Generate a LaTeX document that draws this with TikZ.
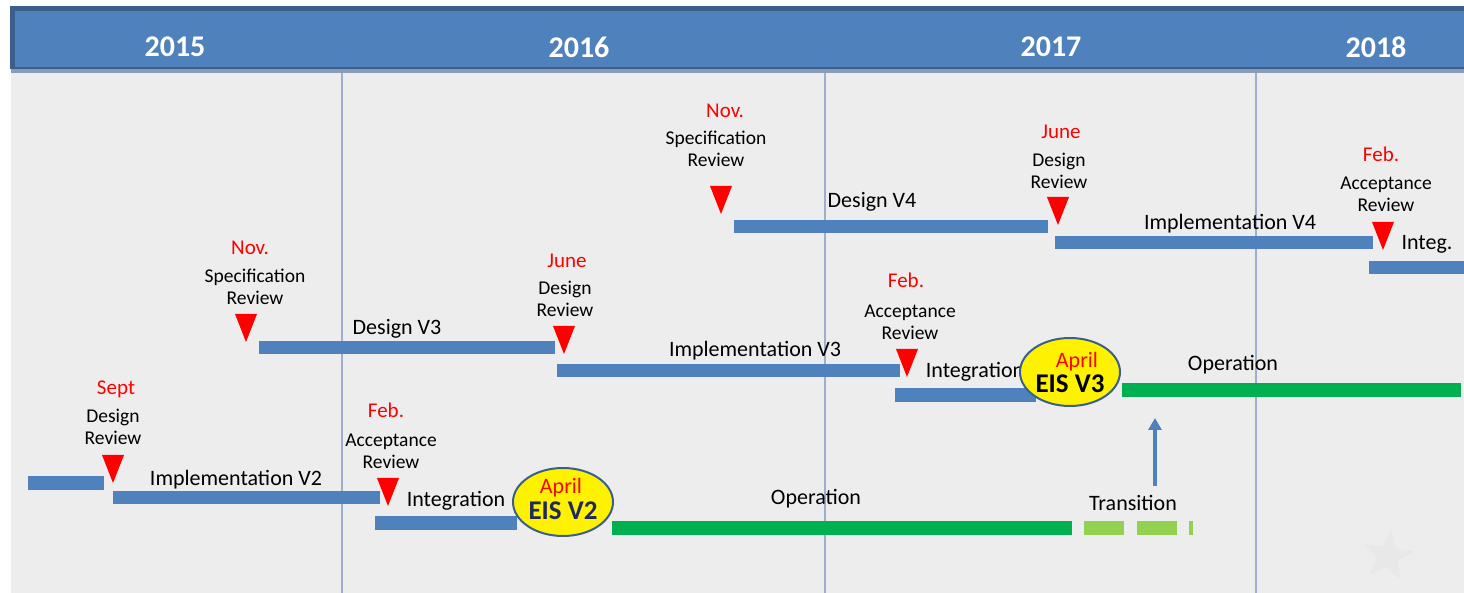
\documentclass[tikz,border=0pt]{standalone}
\usepackage{fontspec}
\setmainfont{Carlito}
\usetikzlibrary{shapes.geometric,arrows.meta}

\definecolor{barblue}{HTML}{4F81BD}
\definecolor{hdrdark}{HTML}{3A5F8C}
\definecolor{hdrshadow}{HTML}{8C9CB4}
\definecolor{bggray}{HTML}{EDEDED}
\definecolor{gridblue}{HTML}{9AB0CC}
\definecolor{opgreen}{HTML}{00B050}
\definecolor{transgreen}{HTML}{92D050}
\definecolor{eisnavy}{HTML}{1F2A5C}

% one red milestone marker, apex down: x, top y
\newcommand{\revmark}[2]{\fill[milestone] (#1-11,#2) -- (#1+11,#2) -- (#1,#2+28) -- cycle;}

\begin{document}
\begin{tikzpicture}[
			x = 0.5pt, y = -0.5pt,
			every node/.style = {inner sep = 0pt},
			year/.style = {text = white, font = \fontsize{15}{15}\selectfont\bfseries},
			month/.style = {text = red, yshift = -1pt, font = \fontsize{10.5}{12}\selectfont},
			review/.style = {align = center, font = \fontsize{9.75}{11}\selectfont},
			phase/.style = {yshift = -1pt, font = \fontsize{11}{12}\selectfont},
			eis/.style = {ellipse, draw = hdrdark, line width = 1pt, fill = yellow,
				minimum width = 50pt, minimum height = 34pt},
			eisname/.style = {font = \fontsize{13.5}{14}\selectfont\bfseries},
			bar/.style = {fill = barblue},
			opbar/.style = {fill = opgreen},
			transbar/.style = {fill = transgreen},
			milestone/.style = {fill = red},
		]

		\useasboundingbox (0,0) rectangle (1464,593);
		\fill[white] (0,0) rectangle (1464,593);
		\fill[bggray] (11,72) rectangle (1464,593);

		% header with the years
		\fill[hdrshadow] (11,67) rectangle (1464,73);
		\fill[barblue] (11,9) rectangle (1464,68);
		\draw[hdrdark, line width = 2.5pt] (12,69) -- (12,9) -- (1464,9);
		\draw[hdrdark, line width = 0.6pt] (12,68) -- (1464,68);
		\node[year] (y2015) at (175,47) {2015};
		\node[year] (y2016) at (579,47) {2016};
		\node[year] (y2017) at (1051,47) {2017};
		\node[year] (y2018) at (1376,47) {2018};

		\foreach \x in {342,825,1256}
			\draw[gridblue, line width = 0.6pt] (\x,73) -- (\x,593);

		% faint star
		\node[star, star points = 5, star point ratio = 2.4, fill = black!9, rotate = -8,
			minimum size = 26pt] (watermark) at (1388,556) {};

		% ---- EIS V2 ----
		\fill[bar] (28,476) rectangle (104,490);
		\revmark{113}{455}
		\node[month] (sept-v2) at (116,387) {Sept};
		\node[review] (dr-v2) at (113,427) {Design\\Review};

		\fill[bar] (113,491) rectangle (380,504);
		\node[phase] (impl-v2) at (236,478) {Implementation V2};
		\revmark{388}{478}
		\node[month] (feb-v2) at (386,408) {Feb.};
		\node[review] (ar-v2) at (391,451) {Acceptance\\Review};

		\fill[bar] (375,516) rectangle (517,530);
		\node[phase] (integ-v2) at (456,499) {Integration};

		\node[eis] (eis-v2) at (563,502) {};
		\node[month, font = \fontsize{11}{12}\selectfont] (april-v2) at (561,486) {April};
		\node[eisname, text = eisnavy] (name-v2) at (563,511) {EIS V2};

		\fill[opbar] (612,521) rectangle (1072,535);
		\node[phase] (op-v2) at (816,497) {Operation};
		\foreach \a/\b in {1084/1124,1137/1177,1189/1193}
			\fill[transbar] (\a,521) rectangle (\b,535);
		\node[phase] (trans) at (1133,501) {Transition};

		\coordinate (trans-foot) at (1155,486);
		\coordinate (trans-tip) at (1155,418);
		\draw[barblue, line width = 2pt, -{Triangle[width = 6.5pt, length = 6pt]}] (trans-foot) -- (trans-tip);

		% ---- EIS V3 ----
		\revmark{246}{314}
		\node[month] (nov-v3) at (250,246) {Nov.};
		\node[review] (sr-v3) at (255,287) {Specification\\Review};

		\fill[bar] (259,341) rectangle (555,354);
		\node[phase] (des-v3) at (397,327) {Design V3};
		\revmark{564}{326}
		\node[month] (june-v3) at (567,259) {June};
		\node[review] (dr-v3) at (565,299) {Design\\Review};

		\fill[bar] (557,364) rectangle (900,377);
		\node[phase] (impl-v3) at (755,349) {Implementation V3};
		\revmark{907}{349}
		\node[month] (feb-v3) at (906,278) {Feb.};
		\node[review] (ar-v3) at (910,322) {Acceptance\\Review};

		\fill[bar] (895,388) rectangle (1036,402);
		\node[phase] (integ-v3) at (975,370) {Integration};

		\node[eis] (eis-v3) at (1070,372) {};
		\node[month, font = \fontsize{11}{12}\selectfont] (april-v3) at (1077,360) {April};
		\node[eisname] (name-v3) at (1070,384) {EIS V3};

		\fill[opbar] (1122,383) rectangle (1461,397);
		\node[phase] (op-v3) at (1233,363) {Operation};

		% ---- EIS V4 ----
		\revmark{721}{186}
		\node[month] (nov-v4) at (725,109) {Nov.};
		\node[review] (sr-v4) at (716,149) {Specification\\Review};

		\fill[bar] (734,220) rectangle (1048,233);
		\node[phase] (des-v4) at (872,200) {Design V4};
		\revmark{1058}{197}
		\node[month] (june-v4) at (1061,130) {June};
		\node[review] (dr-v4) at (1059,171) {Design\\Review};

		\fill[bar] (1055,236) rectangle (1373,249);
		\node[phase] (impl-v4) at (1230,222) {Implementation V4};
		\revmark{1383}{222}
		\node[month] (feb-v4) at (1381,152) {Feb.};
		\node[review] (ar-v4) at (1386,194) {Acceptance\\Review};

		\fill[bar] (1369,261) rectangle (1464,274);
		\node[phase] (integ-v4) at (1427,242) {Integ.};

\end{tikzpicture}
\end{document}
